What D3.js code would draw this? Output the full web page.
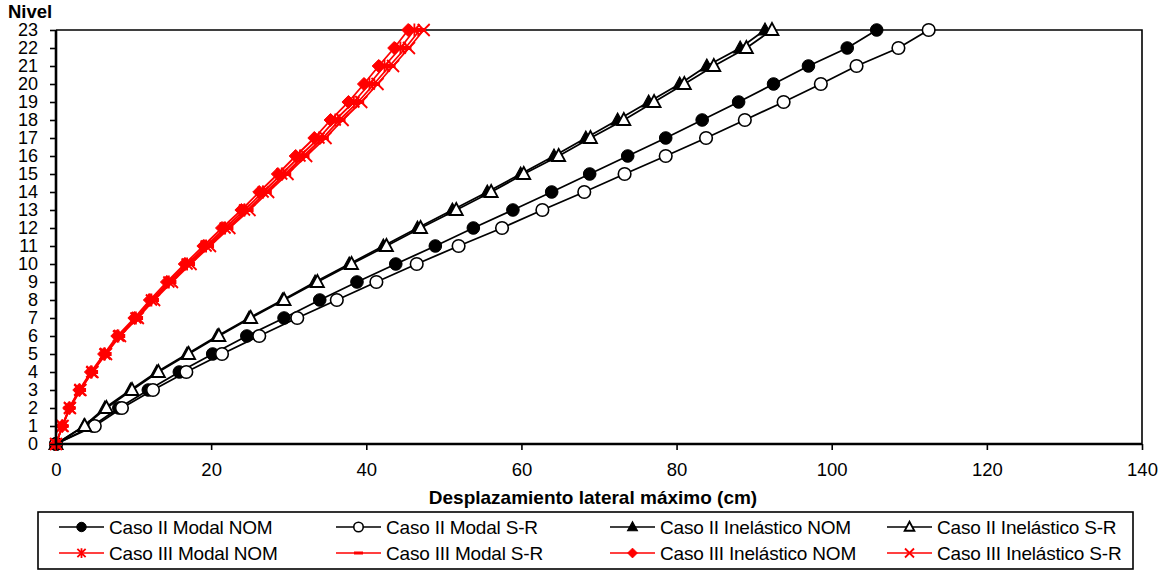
<!DOCTYPE html>
<html>
<head>
<meta charset="utf-8">
<script src="https://cdn.jsdelivr.net/npm/d3@7/dist/d3.min.js"></script>
<style>
  html, body { margin: 0; padding: 0; background: #fff; }
  svg { display: block; font-family: "Liberation Sans", Arial, sans-serif; }
</style>
</head>
<body>
<svg id="chart" width="1162" height="571"></svg>
<script>
// Story levels (Nivel) 0..23
const levels = [0,1,2,3,4,5,6,7,8,9,10,11,12,13,14,15,16,17,18,19,20,21,22,23];

// Maximum lateral displacement (cm) per level
const casoIIModalNOM = [0, 4.7, 8.1, 11.9, 15.9, 20.2, 24.6, 29.4, 34.0, 38.8, 43.8, 48.9, 53.8, 58.9, 63.9, 68.8, 73.7, 78.6, 83.3, 88.0, 92.5, 97.0, 102.0, 105.8];
const casoIIModalSR = [0, 5.0, 8.5, 12.5, 16.8, 21.4, 26.2, 31.1, 36.2, 41.3, 46.5, 51.9, 57.5, 62.7, 68.1, 73.3, 78.6, 83.8, 88.8, 93.8, 98.6, 103.2, 108.6, 112.5];
const casoIIInelNOM = [0, 3.6, 6.3, 9.6, 13.0, 16.9, 20.8, 24.9, 29.2, 33.4, 37.8, 42.2, 46.6, 51.1, 55.6, 59.9, 64.2, 68.3, 72.4, 76.4, 80.4, 83.9, 88.2, 91.4];
const casoIIInelSR = [0, 3.7, 6.5, 9.8, 13.2, 17.1, 21.0, 25.1, 29.4, 33.7, 38.1, 42.6, 47.0, 51.6, 56.1, 60.3, 64.8, 68.9, 73.2, 77.1, 81.0, 84.8, 89.0, 92.3];
const casoIIIModalNOM = [0, 0.8, 1.75, 3.05, 4.6, 6.3, 8.05, 10.3, 12.3, 14.55, 16.9, 19.35, 21.8, 24.3, 26.7, 29.1, 31.45, 33.9, 36.0, 38.4, 40.4, 42.35, 44.4, 46.2];
const casoIIIModalSR = [0, 0.85, 1.75, 3.1, 4.65, 6.4, 8.15, 10.45, 12.5, 14.75, 17.15, 19.6, 22.1, 24.7, 27.05, 29.55, 31.9, 34.4, 36.55, 38.95, 41.0, 43.0, 45.05, 46.9];
const casoIIIInelNOM = [0, 0.8, 1.7, 3.0, 4.5, 6.2, 7.9, 10.1, 12.1, 14.3, 16.6, 19.0, 21.4, 23.9, 26.2, 28.6, 30.9, 33.3, 35.4, 37.7, 39.7, 41.6, 43.6, 45.4];
const casoIIIInelSR = [0, 0.85, 1.8, 3.15, 4.7, 6.45, 8.25, 10.55, 12.65, 14.95, 17.35, 19.85, 22.35, 24.95, 27.35, 29.85, 32.25, 34.75, 36.95, 39.35, 41.45, 43.45, 45.5, 47.4];

const seriesNames = [
  "Caso II Modal NOM", "Caso II Modal S-R", "Caso II Inelástico NOM", "Caso II Inelástico S-R",
  "Caso III Modal NOM", "Caso III Modal S-R", "Caso III Inelástico NOM", "Caso III Inelástico S-R"
];
const seriesValues = [casoIIModalNOM, casoIIModalSR, casoIIInelNOM, casoIIInelSR,
  casoIIIModalNOM, casoIIIModalSR, casoIIIInelNOM, casoIIIInelSR];
const seriesColors = ["#000", "#000", "#000", "#000", "#ff0000", "#ff0000", "#ff0000", "#ff0000"];
const seriesMarkers = ["circleFilled", "circleOpen", "triFilled", "triOpen", "star", "dash", "diamond", "cross"];

const xTicks = [0, 20, 40, 60, 80, 100, 120, 140];
const xTitle = "Desplazamiento lateral máximo (cm)";
const yTitle = "Nivel";

const svg = d3.select("#chart");
const x = d3.scaleLinear().domain([0, 140]).range([56, 1142]);
const y = d3.scaleLinear().domain([0, 23]).range([444, 30]);

// plot frame (top and right edges)
svg.append("path")
  .attr("d", `M${x(0)},${y(23)}H${x(140)}V${y(0)}`)
  .attr("fill", "none").attr("stroke", "#000").attr("stroke-width", 1.6);

// markers
function drawMarker(g, type, color, s) {
  const k = s;
  switch (type) {
    case "circleFilled":
      g.append("circle").attr("r", 6.3 * k).attr("fill", "#000").attr("stroke", "#000").attr("stroke-width", 1);
      break;
    case "circleOpen":
      g.append("circle").attr("r", 6.3 * k).attr("fill", "#fff").attr("stroke", "#000").attr("stroke-width", 1.6);
      break;
    case "triFilled":
      g.append("path").attr("d", `M0,${-7*k}L${6.5*k},${5*k}L${-6.5*k},${5*k}Z`).attr("fill", "#000").attr("stroke", "#000").attr("stroke-width", 1.2);
      break;
    case "triOpen":
      g.append("path").attr("d", `M0,${-7*k}L${6.5*k},${5*k}L${-6.5*k},${5*k}Z`).attr("fill", "#fff").attr("stroke", "#000").attr("stroke-width", 1.8);
      break;
    case "star":
      g.append("path").attr("d", `M0,${-6.5*k}V${6.5*k}M${-5.5*k},${-5.5*k}L${5.5*k},${5.5*k}M${5.5*k},${-5.5*k}L${-5.5*k},${5.5*k}`)
        .attr("stroke", color).attr("stroke-width", 1.8).attr("fill", "none");
      break;
    case "dash":
      g.append("rect").attr("x", -6 * k).attr("y", -2 * k).attr("width", 12 * k).attr("height", 4 * k).attr("fill", color);
      break;
    case "diamond":
      g.append("path").attr("d", `M0,${-6.5*k}L${6.5*k},0L0,${6.5*k}L${-6.5*k},0Z`).attr("fill", color).attr("stroke", color).attr("stroke-width", 1);
      break;
    case "cross":
      g.append("path").attr("d", `M${-6*k},${-6*k}L${6*k},${6*k}M${6*k},${-6*k}L${-6*k},${6*k}`)
        .attr("stroke", color).attr("stroke-width", 1.8).attr("fill", "none");
      break;
  }
}

const line = d3.line().x(d => x(d[0])).y(d => y(d[1]));

seriesValues.forEach((vals, i) => {
  const pts = vals.map((v, j) => [v, levels[j]]);
  const g = svg.append("g").attr("class", "series");
  g.append("path").datum(pts).attr("d", line)
    .attr("fill", "none").attr("stroke", seriesColors[i]).attr("stroke-width", 1.8);
  pts.forEach(p => {
    const mg = g.append("g").attr("transform", `translate(${x(p[0])},${y(p[1])})`);
    drawMarker(mg, seriesMarkers[i], seriesColors[i], 1);
  });
});

// axes
const yAxis = d3.axisLeft(y).tickValues(levels).tickSize(6).tickPadding(12).tickFormat(d3.format("d"));
const gy = svg.append("g").attr("transform", `translate(${x(0)},0)`).call(yAxis);
gy.select(".domain").attr("stroke-width", 2.6).attr("d", `M0,${y(0)}V${y(23)}`);
gy.selectAll(".tick line").attr("stroke-width", 1.6);
gy.selectAll("text").attr("font-size", 18).attr("fill", "#000").attr("font-family", "Liberation Sans, Arial, sans-serif");

const xAxis = d3.axisBottom(x).tickValues(xTicks).tickSize(6).tickPadding(13).tickFormat(d3.format("d"));
const gx = svg.append("g").attr("transform", `translate(0,${y(0)})`).call(xAxis);
gx.select(".domain").attr("stroke-width", 2.6).attr("d", `M${x(0)},0H${x(140)}`);
gx.selectAll(".tick line").attr("stroke-width", 1.6);
gx.selectAll("text").attr("font-size", 18.5).attr("fill", "#000").attr("font-family", "Liberation Sans, Arial, sans-serif");

// axis titles
svg.append("text").attr("x", 8).attr("y", 18).attr("font-size", 18.5).attr("font-weight", "bold").text(yTitle);
svg.append("text").attr("x", 593).attr("y", 504).attr("text-anchor", "middle")
  .attr("font-size", 19).attr("font-weight", "bold").text(xTitle);

// legend
const legend = svg.append("g");
legend.append("rect").attr("x", 38).attr("y", 512).attr("width", 1095).attr("height", 57)
  .attr("fill", "#fff").attr("stroke", "#000").attr("stroke-width", 1.6);
const colX = [59, 336, 610, 887];
const rowY = [527, 553];
seriesNames.forEach((name, i) => {
  const cx = colX[i % 4], cy = rowY[Math.floor(i / 4)];
  const lg = legend.append("g").attr("transform", `translate(${cx},${cy})`);
  lg.append("line").attr("x1", 0).attr("x2", 45).attr("y1", 0).attr("y2", 0)
    .attr("stroke", seriesColors[i]).attr("stroke-width", 1.7);
  drawMarker(lg.append("g").attr("transform", "translate(22.5,0)"), seriesMarkers[i], seriesColors[i], 0.75);
  lg.append("text").attr("x", 50).attr("y", 7).attr("font-size", 19).attr("letter-spacing", -0.2).text(name);
});
</script>
</body>
</html>
